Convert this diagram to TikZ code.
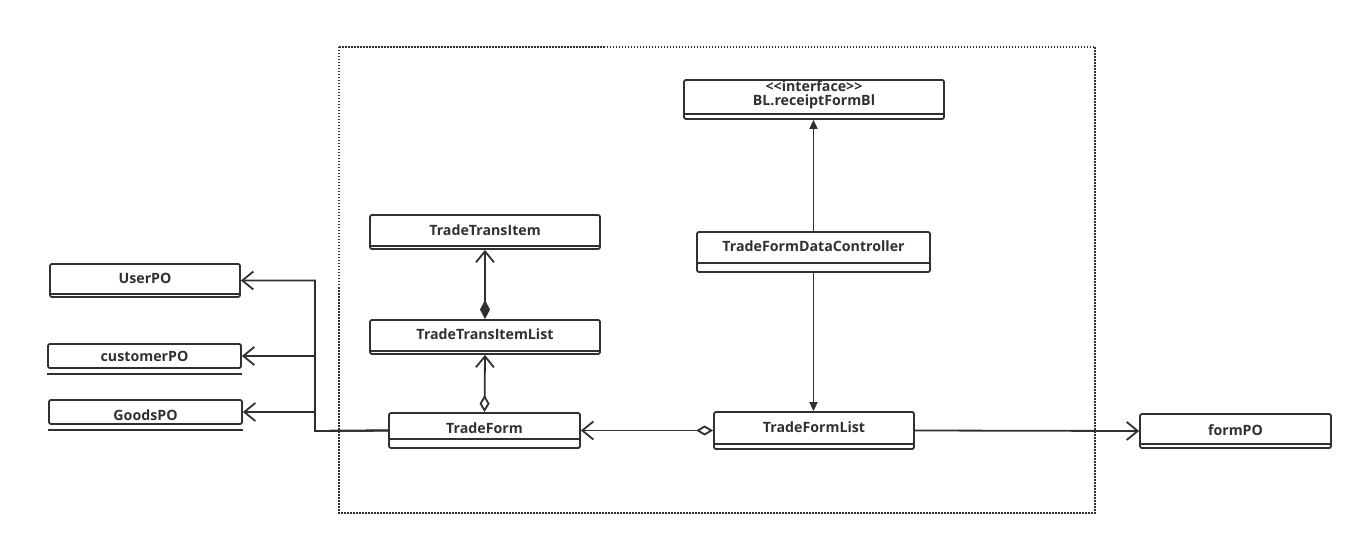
\documentclass[tikz,border=0pt]{standalone}
\usepackage{fontspec}
\setmainfont{Open Sans}
\usetikzlibrary{arrows.meta}
\definecolor{ink}{HTML}{303030}

\begin{document}
\begin{tikzpicture}[x=1pt,y=-1pt,line width=1.8pt,
    assoc/.style={draw=ink,-{Straight Barb[length=11pt,width=18pt]}},
    comp/.style={draw=ink,{Diamond[length=19pt,width=10pt]}-{Straight Barb[length=11pt,width=18pt]}},
    aggr/.style={draw=ink,{Diamond[open,length=17pt,width=10pt]}-{Straight Barb[length=11pt,width=18pt]}},
    dep/.style={draw=ink,-{Triangle[length=9pt,width=8pt]}}]

      \useasboundingbox (0,0) rectangle (1363,545);
      \draw[ink,line width=1.2pt,dash pattern=on 1.5pt off 1.5pt] (339,47) rectangle (1095,513);

      \begin{scope}[every node/.style={draw=ink,text=ink,rounded corners=2pt,inner sep=0pt,anchor=base,
          font=\bfseries\fontsize{14.2}{14}\selectfont}]
        \node[minimum width=190pt,text height=20pt,text depth=13pt] (up)  at (145,284)    {UserPO};
        \node[minimum width=193pt,text height=18pt,text depth=6pt]  (cp)  at (144.5,362)  {customerPO};
        \node[minimum width=193pt,text height=20pt,text depth=4pt]  (gp)  at (145.5,420)  {GoodsPO};
        \node[minimum width=230pt,text height=21pt,text depth=13pt] (tti) at (485,236)    {TradeTransItem};
        \node[minimum width=230pt,text height=20pt,text depth=14pt] (ttl) at (485,340)    {TradeTransItemList};
        \node[minimum width=191pt,text height=20pt,text depth=15pt] (tf)  at (484.5,433)  {TradeForm};
        \node[minimum width=200pt,text height=20pt,text depth=17pt] (tfl) at (814,432)    {TradeFormList};
        \node[minimum width=260pt,text height=26pt,text depth=13pt] (bl)  at (814,106)
          {\begin{tabular}[b]{@{}c@{}}<{}<interface>{}>\\BL.receiptFormBl\end{tabular}};
        \node[minimum width=233pt,text height=20pt,text depth=20pt] (tfc) at (813.5,252)  {TradeFormDataController};
        \node[minimum width=191pt,text height=21pt,text depth=13pt] (fpo) at (1235.5,435) {formPO};
      \end{scope}

      % compartment lines
      \foreach \n/\g in {up/4,tti/4,ttl/4,tf/10,tfl/6,bl/6,tfc/10,fpo/5}
        \draw[ink] ([yshift=\g pt]\n.south west) -- ([yshift=\g pt]\n.south east);
      \foreach \n in {cp,gp}
        \draw[ink] ([yshift=-5pt]\n.south west) -- ([yshift=-5pt]\n.south east);

      \coordinate (bus) at (315,431);
      \foreach \n in {up,cp,gp}
        \draw[assoc] (tf.west) -- (bus) |- (\n.east);

      \draw[comp] (ttl.north) -- (tti.south);
      \draw[aggr] (tf.north) -- (ttl.south);
      \draw[aggr] (tfl.west) -- (tf.east);
      \draw[assoc] (tfl.east) -- (fpo.west);
      \draw[dep] (tfc.north) -- (tfc.north |- bl.south);
      \draw[dep] (tfc.south) -- (tfc.south |- tfl.north);

    \end{tikzpicture}
\end{document}
